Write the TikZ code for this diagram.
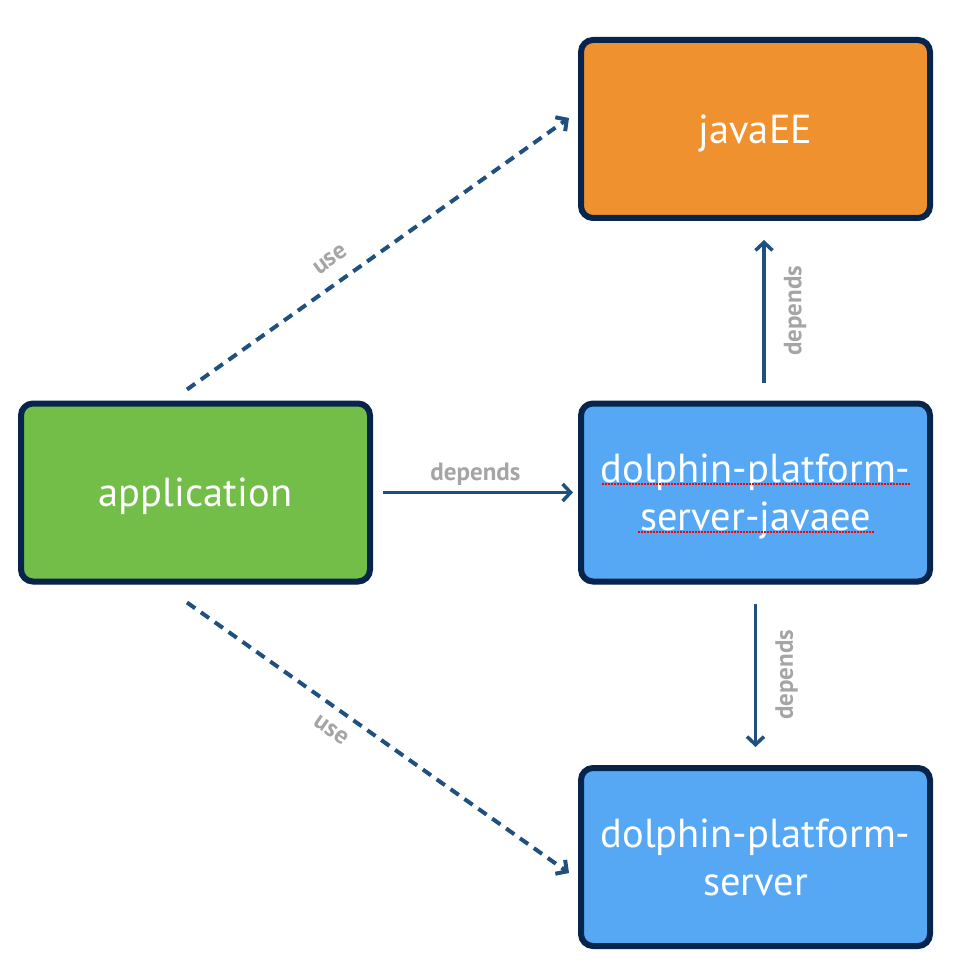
\documentclass[tikz,border=0pt]{standalone}
\usepackage{xcolor}
\usepackage{fontspec}
\setmainfont{PT Sans}
\usepackage{tikz}
\usetikzlibrary{arrows.meta,shadows}

\definecolor{navy}{RGB}{6,36,76}
\definecolor{arrowblue}{RGB}{31,80,128}
\definecolor{boxorange}{RGB}{240,145,48}
\definecolor{boxgreen}{RGB}{115,190,72}
\definecolor{boxblue}{RGB}{86,168,245}
\definecolor{labelgray}{RGB}{165,165,165}

\begin{document}
\begin{tikzpicture}[x=1pt, y=-1pt,
    box/.style={draw=navy, line width=6pt, rounded corners=12pt,
        minimum width=349pt, minimum height=178pt, text=white, align=center,
        font=\fontsize{40.5}{48}\selectfont, text depth=0pt,
        drop shadow={shadow xshift=0pt, shadow yshift=-3pt, opacity=0.25}},
    dep/.style={draw=arrowblue, line width=3.5pt,
        -{Straight Barb[length=8pt,width=17pt]}},
    use/.style={dep, line width=4pt, dash pattern=on 10pt off 7pt},
    lbl/.style={text=labelgray, font=\fontsize{25}{28}\selectfont\bfseries},
    spell/.style={draw=red, line width=1.5pt, dash pattern=on 1.5pt off 1.5pt}]
    \useasboundingbox (0,0) rectangle (966,976);

    % Boxes
    \node[box, fill=boxorange] (javaEE) at (755.5,129) {javaEE};
    \node[box, fill=boxgreen] (app) at (195.5,492.5) {application};
    \node[box, fill=boxblue] (javaee) at (755.5,492.5) {dolphin-platform-\\server-javaee};
    \node[box, fill=boxblue] (server) at (755.5,857) {dolphin-platform-\\server};

    % Spelling marks
    \draw[spell] ([xshift=-153.5pt,yshift=8.5pt]javaee.center) -- ([xshift=154.5pt,yshift=8.5pt]javaee.center);
    \draw[spell] ([xshift=-117.5pt,yshift=-39.5pt]javaee.center) -- ([xshift=118.5pt,yshift=-39.5pt]javaee.center);

    % Arrows
    \draw[dep, shorten <=10pt, shorten >=5pt] (app.east) -- node[lbl, above=2pt] {depends} (javaee.west);
    \draw[dep, shorten <=18pt, shorten >=19pt] ([xshift=8.5pt]javaee.north) -- node[lbl, xshift=31pt, rotate=90] {depends} ([xshift=8.5pt]javaEE.south);
    \draw[dep, shorten <=19pt, shorten >=18pt] (javaee.south) -- node[lbl, xshift=31pt, rotate=90] {depends} (server.north);
    \draw[use] ([xshift=-8.5pt,yshift=11pt]app.north) -- node[lbl, pos=0.41, sloped, above=11pt] {use} ([xshift=-9pt,yshift=11pt]javaEE.west);
    \draw[use] ([xshift=-8.5pt,yshift=-18pt]app.south) -- node[lbl, pos=0.41, sloped, below=9pt] {use} ([xshift=-9pt,yshift=-16pt]server.west);
\end{tikzpicture}
\end{document}
